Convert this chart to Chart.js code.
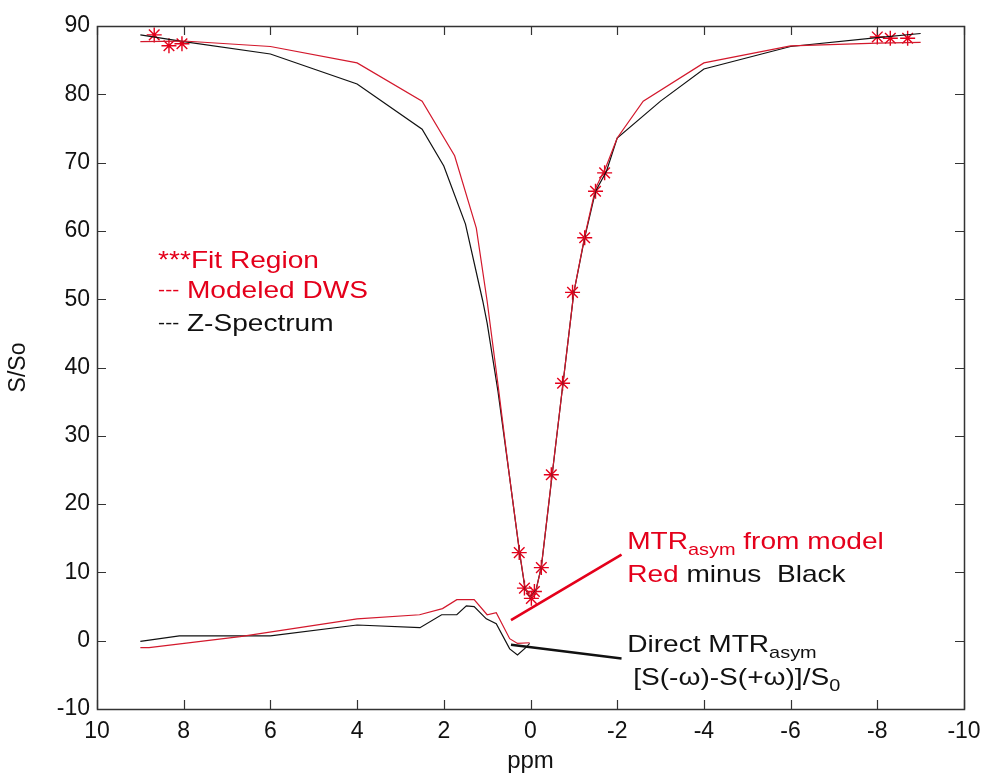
<!DOCTYPE html>
<html>
<head>
<meta charset="utf-8">
<script src="https://cdn.jsdelivr.net/npm/chart.js@4.4.1/dist/chart.umd.min.js"></script>
<style>
  html, body { margin: 0; padding: 0; background: #ffffff; }
  #wrap { width: 984px; height: 780px; position: relative; }
</style>
</head>
<body>
<div id="wrap"><canvas id="chart" width="984" height="780"></canvas></div>
<script>
// Offsets (ppm) and normalised signal S/So (%) for each trace
const zPpm   = [9, 8, 6, 4, 2.5, 2, 1.5, 1.1, 1, 0.75, 0.5, 0.25, 0.125, 0, -0.125, -0.25, -0.5, -0.75, -1, -1.25, -1.5, -1.75, -2, -3, -4, -6, -8, -9];
const zSig   = [88.7, 87.7, 85.9, 81.5, 74.9, 69.5, 61, 49.7, 46.5, 36.5, 24.8, 12.8, 7.6, 6.3, 7.4, 10.8, 24.3, 37.7, 51, 59, 65.8, 68.7, 73.6, 79, 83.7, 87, 88.3, 88.9];

const dwsPpm = [9, 8, 6, 4, 2.5, 1.75, 1.25, 1, 0.75, 0.5, 0.25, 0.125, 0, -0.125, -0.25, -0.5, -0.75, -1, -1.25, -1.5, -1.75, -2, -2.6, -4, -6, -8, -9];
const dwsSig = [87.7, 87.8, 87.0, 84.6, 79, 71, 60.4, 49.7, 37.5, 24.8, 12.9, 7.7, 6.3, 7.3, 10.8, 24.4, 37.7, 51, 59.2, 66.2, 69.5, 73.6, 79, 84.6, 87.1, 87.5, 87.6];

// Points used for the fit
const fitPpm = [8.68, 8.34, 8.04, 0.26, 0.14, -0.02, -0.09, -0.25, -0.48, -0.74, -0.97, -1.25, -1.5, -1.71, -8, -8.3, -8.7];
const fitSig = [88.7, 87.1, 87.4, 12.9, 7.7, 6.2, 7.2, 10.7, 24.3, 37.7, 51, 59, 65.8, 68.5, 88.4, 88.2, 88.2];

// Direct asymmetry S(-w)-S(+w)
const mtrPpm = [9, 8.1, 6, 4, 2.55, 2.05, 1.7, 1.48, 1.3, 1.02, 0.79, 0.48, 0.3, 0.09, 0.02];
const mtrSig = [-0.1, 0.7, 0.7, 2.3, 1.9, 3.8, 3.8, 5.1, 5.0, 3.2, 2.5, -1.2, -2.1, -0.9, -0.4];

// Asymmetry from the model (red minus black)
const mtrModPpm = [9, 8.8, 6.7, 4, 2.56, 2.03, 1.7, 1.3, 1.0, 0.79, 0.48, 0.3, 0.02];
const mtrModSig = [-1.0, -1.0, 0.6, 3.2, 3.8, 4.7, 6.0, 6.0, 3.8, 4.1, 0.3, -0.4, -0.3];

// Callout leader lines
const leadModelPpm = [0.45, -2.1];
const leadModelSig = [3.0, 12.6];
const leadDirectPpm = [0.45, -2.1];
const leadDirectSig = [-0.6, -2.6];

// Axis ranges and ticks
const xTicks = [10, 8, 6, 4, 2, 0, -2, -4, -6, -8, -10];
const yTicks = [90, 80, 70, 60, 50, 40, 30, 20, 10, 0, -10];

const RED = '#e4001b';
const RED_LINE = '#d3182c';
const BLACK = '#111111';
const FONT = "'Liberation Sans', Arial, sans-serif";
const STRETCH = 1.17;

const pts = (xs, ys) => xs.map((x, i) => ({ x: x, y: ys[i] }));

// Inward ticks on all four sides plus a closed frame, and the text annotations
const framePlugin = {
  id: 'frame',
  afterDatasetsDraw(chart) {
    const { ctx, chartArea: a, scales } = chart;
    const xs = scales.x, ys = scales.y;
    const tl = 9;
    ctx.save();
    ctx.strokeStyle = '#333333';
    ctx.lineWidth = 1.2;
    ctx.beginPath();
    xTicks.forEach(v => {
      const px = Math.round(xs.getPixelForValue(v)) + 0.5;
      ctx.moveTo(px, a.bottom); ctx.lineTo(px, a.bottom - tl);
      ctx.moveTo(px, a.top); ctx.lineTo(px, a.top + tl);
    });
    yTicks.forEach(v => {
      const py = Math.round(ys.getPixelForValue(v)) + 0.5;
      ctx.moveTo(a.left, py); ctx.lineTo(a.left + tl, py);
      ctx.moveTo(a.right, py); ctx.lineTo(a.right - tl, py);
    });
    ctx.stroke();
    ctx.lineWidth = 1.5;
    ctx.strokeRect(Math.round(a.left) + 0.5, Math.round(a.top) + 0.5,
                   Math.round(a.right - a.left), Math.round(a.bottom - a.top));
    ctx.restore();

    const X = v => xs.getPixelForValue(v);
    const Y = v => ys.getPixelForValue(v);

    // one line of mixed text, slightly widened, starting at (ppm, S/So)
    const run = (segs, xv, yv) => {
      ctx.save();
      ctx.translate(X(xv), Y(yv));
      ctx.scale(STRETCH, 1);
      let cx = 0;
      segs.forEach(s => {
        ctx.font = (s.size || 24) + 'px ' + FONT;
        ctx.fillStyle = s.color;
        ctx.textBaseline = 'alphabetic';
        ctx.fillText(s.t, cx, s.dy || 0);
        cx += ctx.measureText(s.t).width;
      });
      ctx.restore();
    };

    run([{ t: '***Fit Region', color: RED }], 8.59, 54.6);
    run([{ t: '---', color: RED, size: 18, dy: -2 }, { t: ' Modeled DWS', color: RED }], 8.59, 50.2);
    run([{ t: '---', color: BLACK, size: 18, dy: -2 }, { t: ' Z-Spectrum', color: BLACK }], 8.59, 45.4);

    run([{ t: 'MTR', color: RED }, { t: 'asym', color: RED, size: 17, dy: 6 },
         { t: ' from model', color: RED }], -2.23, 13.4);
    run([{ t: 'Red', color: RED }, { t: ' minus  Black', color: BLACK }], -2.23, 8.6);
    run([{ t: 'Direct MTR', color: BLACK }, { t: 'asym', color: BLACK, size: 17, dy: 6 }], -2.23, -1.7);
    run([{ t: '[S(-\u03c9)-S(+\u03c9)]/S', color: BLACK }, { t: '0', color: BLACK, size: 17, dy: 6 }], -2.37, -6.5);
  }
};

const lineDs = (data, color, width) => ({
  data: data, borderColor: color, backgroundColor: color, borderWidth: width,
  showLine: true, pointRadius: 0, tension: 0, fill: false
});

new Chart(document.getElementById('chart'), {
  type: 'scatter',
  data: {
    datasets: [
      lineDs(pts(dwsPpm, dwsSig), RED_LINE, 1.2),
      lineDs(pts(zPpm, zSig), BLACK, 1.2),
      lineDs(pts(mtrModPpm, mtrModSig), RED_LINE, 1.2),
      lineDs(pts(mtrPpm, mtrSig), BLACK, 1.2),
      lineDs(pts(leadModelPpm, leadModelSig), RED, 2.6),
      lineDs(pts(leadDirectPpm, leadDirectSig), BLACK, 2.4),
      {
        data: pts(fitPpm, fitSig), showLine: false,
        pointStyle: 'star', pointRadius: 7.5, borderColor: RED, backgroundColor: RED,
        pointBorderWidth: 1.4, pointHoverRadius: 7.5
      }
    ]
  },
  options: {
    responsive: false,
    animation: false,
    events: [],
    layout: { padding: { left: 0, top: 26, right: 20, bottom: 0 } },
    plugins: { legend: { display: false }, tooltip: { enabled: false } },
    scales: {
      x: {
        type: 'linear', min: -10, max: 10, reverse: true,
        grid: { display: false, drawTicks: false },
        border: { display: false },
        afterBuildTicks: s => { s.ticks = xTicks.map(v => ({ value: v })); },
        afterFit: s => { s.height = 71; s.paddingLeft = 0; s.paddingRight = 0; },
        ticks: { color: '#111', padding: 9, maxRotation: 0, autoSkip: false,
                 font: { family: FONT, size: 23 } },
        title: { display: true, text: 'ppm', color: '#111', padding: { top: 6 },
                 font: { family: FONT, size: 24 } }
      },
      y: {
        type: 'linear', min: -10, max: 90,
        grid: { display: false, drawTicks: false },
        border: { display: false },
        afterBuildTicks: s => { s.ticks = yTicks.map(v => ({ value: v })); },
        afterFit: s => { s.width = 97; s.paddingTop = 0; s.paddingBottom = 0; },
        ticks: { color: '#111', padding: 7, autoSkip: false,
                 font: { family: FONT, size: 23 } },
        title: { display: true, text: 'S/So', color: '#111', padding: { bottom: 0, top: 5 },
                 font: { family: FONT, size: 23 } }
      }
    }
  },
  plugins: [framePlugin]
});
</script>
</body>
</html>
